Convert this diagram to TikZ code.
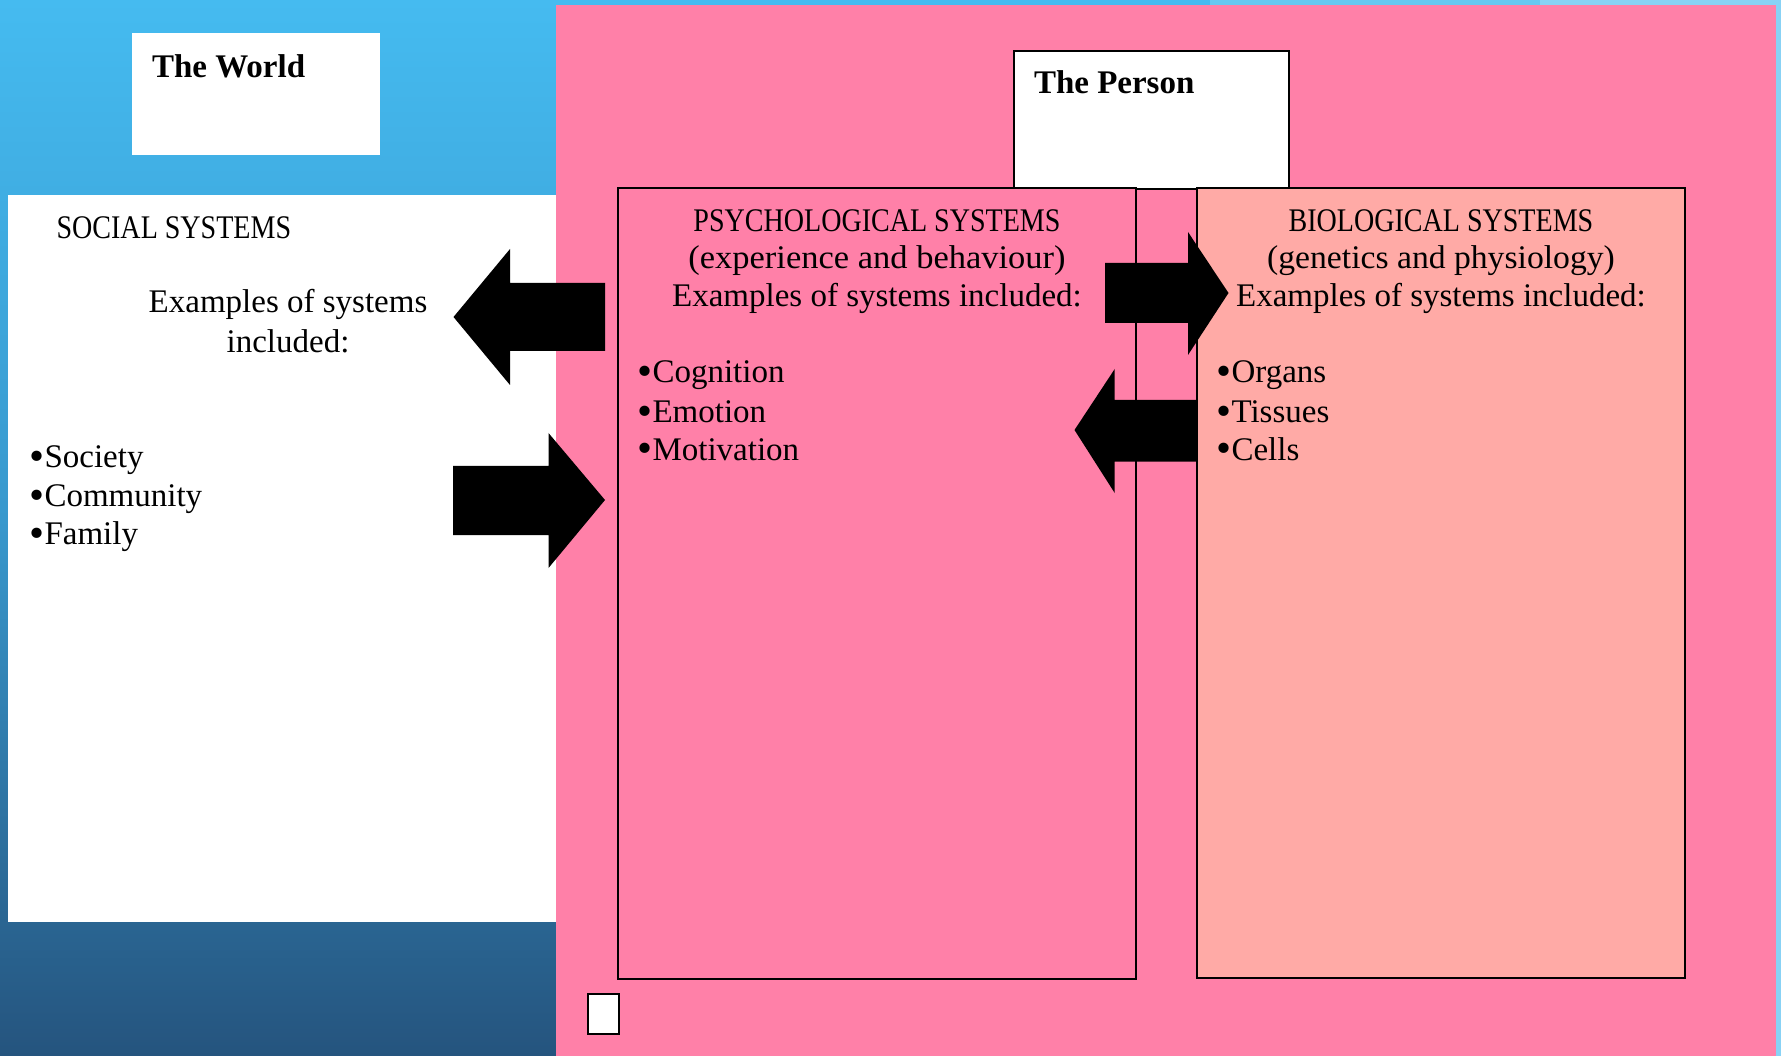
\documentclass[tikz,border=0pt]{standalone}
\usepackage{fontspec}
\setmainfont{Liberation Serif}
\newfontfamily\capsfont[FakeStretch=0.85]{Liberation Serif}
\usepackage{graphicx}
\definecolor{pinkbg}{RGB}{255,128,168}
\definecolor{biofill}{RGB}{255,170,166}
\definecolor{skytop}{RGB}{69,187,240}
\definecolor{skymid}{RGB}{56,152,205}
\definecolor{skybot}{RGB}{37,84,126}
\definecolor{stripa}{RGB}{102,200,240}
\definecolor{stripb}{RGB}{136,210,245}
\newcommand{\bigbul}{\raisebox{-2.5pt}{\scalebox{1.3}{•}}\kern0.5pt}
\begin{document}
\begin{tikzpicture}[x=1pt,y=-1pt,
  txt/.style={font=\fontsize{33}{38}\selectfont, inner sep=0pt, outer sep=0pt},
  captxt/.style={font=\fontsize{33}{38}\selectfont\capsfont, inner sep=0pt, outer sep=0pt},
  boldtxt/.style={font=\fontsize{33}{38}\selectfont\bfseries, inner sep=0pt, outer sep=0pt},
  panelbox/.style={draw=black, line width=2pt, anchor=north west, inner sep=0pt, outer sep=0pt},
  blockarrow/.style={fill=black, draw=none}]
\useasboundingbox (0,0) rectangle (1781,1056);
% background
\fill[top color=skytop, bottom color=skymid] (0,0) rectangle (1781,520);
\fill[top color=skymid, bottom color=skybot] (0,520) rectangle (1781,1056);
\fill[stripa] (1210,0) rectangle (1540,6);
\fill[stripb] (1540,0) rectangle (1781,6);
\fill[stripb] (1776,0) rectangle (1781,1056);
% pink area
\fill[pinkbg] (556,5) rectangle (1776,1056);
% social panel
\fill[white] (8,195) rectangle (556,922);
% world box
\node (world) [fill=white, anchor=north west, inner sep=0pt, outer sep=0pt, minimum width=248pt, minimum height=122pt] at (132,33) {};
\node (worldtxt) [boldtxt, anchor=base west] at (152,77.5) {The World};
% person box
\node (person) [panelbox, fill=white, minimum width=275pt, minimum height=138pt] at (1014,51) {};
\node (persontxt) [boldtxt, anchor=base west] at (1034,94) {The Person};
% psych and bio boxes
\node (psych) [panelbox, fill=pinkbg, minimum width=518pt, minimum height=791pt] at (618,188) {};
\node (bio) [panelbox, fill=biofill, minimum width=488pt, minimum height=790pt] at (1197,188) {};
% small square
\node (small) [draw=black, line width=1.5pt, fill=white, anchor=north west, inner sep=0pt, minimum width=31pt, minimum height=40pt] at (587,993) {};
% social texts
\node (soctitle) [captxt, anchor=base west] at (56.6,238.5) {SOCIAL SYSTEMS};
\node (socex) [txt, anchor=base] at (288,313) {\begin{tabular}[t]{@{}c@{}}Examples of systems\\[2pt] included:\end{tabular}};
\node (soclist) [txt, anchor=base west] at (29,467.5) {\begin{tabular}[t]{@{}l@{}}\bigbul Society\\[1pt] \bigbul Community\\[0.5pt] \bigbul Family\end{tabular}};
% psych texts
\node (psyhead) [txt, anchor=base] at (877,231.5) {\begin{tabular}[t]{@{}c@{}}{\capsfont PSYCHOLOGICAL SYSTEMS}\\[-1pt] \scalebox{1.045}[1]{(experience and behaviour)}\\ Examples of systems included:\end{tabular}};
\node (psylist) [txt, anchor=base west] at (637,383) {\begin{tabular}[t]{@{}l@{}}\bigbul Cognition\\[2pt] \bigbul Emotion\\[-0.5pt] \bigbul Motivation\end{tabular}};
% bio texts
\node (biohead) [txt, anchor=base] at (1441,231.5) {\begin{tabular}[t]{@{}c@{}}{\capsfont BIOLOGICAL SYSTEMS}\\[-1pt] \scalebox{1.02}[1]{(genetics and physiology)}\\ Examples of systems included:\end{tabular}};
\node (biolist) [txt, anchor=base west] at (1216,383) {\begin{tabular}[t]{@{}l@{}}\bigbul Organs\\[2pt] \bigbul Tissues\\[-0.5pt] \bigbul Cells\end{tabular}};
% block arrows
\fill[blockarrow] (605,283) -- (510,283) -- (510,249) -- (453.5,317) -- (510,385) -- (510,351) -- (605,351) -- cycle;
\fill[blockarrow] (453,466) -- (548.5,466) -- (548.5,433) -- (605,500) -- (548.5,568) -- (548.5,535) -- (453,535) -- cycle;
\fill[blockarrow] (1105,263) -- (1188,263) -- (1188,232) -- (1228.5,293) -- (1188,355) -- (1188,323) -- (1105,323) -- cycle;
\fill[blockarrow] (1197,400) -- (1114.7,400) -- (1114.7,369) -- (1074.5,430) -- (1114.7,493) -- (1114.7,461.7) -- (1197,461.7) -- cycle;
\end{tikzpicture}
\end{document}
